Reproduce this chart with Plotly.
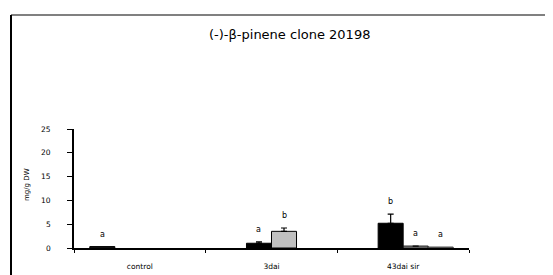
import plotly.graph_objects as go

categories = ["control", "3dai", "43dai sir"]
series_a = [0.3, None, None]
series_b = [None, 1.0, 5.2]
series_c = [None, 3.5, 0.4]
series_d = [None, None, 0.2]
err_b = [0, 0.3, 1.9]
err_c = [0, 0.7, 0]
letters_a = ["a", None, None]
letters_b = [None, "a", "b"]
letters_c = [None, "b", "a"]
letters_d = [None, None, "a"]
y_ticks = [0, 5, 10, 15, 20, 25]

FONT = "Comic Sans MS, DejaVu Sans, sans-serif"

# plot area in figure pixels (page has an 8px body margin)
L, R, T, B = 66, 461, 121, 240
W, H = 553, 275


def px(x):
    return (x - L) / (R - L)


def py(y):
    return (B - y) / (B - T)


fig = go.Figure()
fig.add_bar(x=categories, y=series_a, marker=dict(color="#202020", line=dict(color="black", width=1)))
fig.add_bar(x=categories, y=series_b, marker=dict(color="black", line=dict(color="black", width=1)),
            error_y=dict(type="data", array=err_b, arrayminus=[0, 0, 0], symmetric=False,
                         color="black", thickness=1.2, width=3))
fig.add_bar(x=categories, y=series_c, marker=dict(color="#c0c0c0", line=dict(color="black", width=1)),
            error_y=dict(type="data", array=err_c, arrayminus=[0, 0, 0], symmetric=False,
                         color="black", thickness=1.2, width=3))
fig.add_bar(x=categories, y=series_d, marker=dict(color="#808080", line=dict(color="#404040", width=1)))

offsets = [-0.285, -0.095, 0.095, 0.285]
all_vals = [series_a, series_b, series_c, series_d]
all_errs = [[0, 0, 0], err_b, err_c, [0, 0, 0]]
all_letters = [letters_a, letters_b, letters_c, letters_d]
annotations = []
for vals, errs, lets, off in zip(all_vals, all_errs, all_letters, offsets):
    for i, (v, e, t) in enumerate(zip(vals, errs, lets)):
        if t is None or v is None:
            continue
        annotations.append(dict(x=i + off, y=v + e, xref="x", yref="y", text=t,
                                showarrow=False, yanchor="bottom", yshift=6,
                                font=dict(family=FONT, size=8, color="black")))

# y tick labels, placed further from the axis as in the original
for t in y_ticks:
    annotations.append(dict(x=px(45), y=t, xref="paper", yref="y", text=str(t),
                            showarrow=False, xanchor="right", yanchor="middle",
                            font=dict(family=FONT, size=7.5, color="black")))

annotations.append(dict(x=px(281), y=py(27), xref="paper", yref="paper",
                        text="(-)-β-pinene clone 20198", showarrow=False,
                        xanchor="center", yanchor="middle",
                        font=dict(family=FONT, size=13, color="black")))
annotations.append(dict(x=px(19), y=py(177), xref="paper", yref="paper",
                        text="mg/g DW", textangle=-90, showarrow=False,
                        xanchor="center", yanchor="middle",
                        font=dict(family=FONT, size=7, color="black")))

fig.update_layout(
    width=W, height=H,
    margin=dict(l=L, r=W - R, t=T, b=H - B),
    paper_bgcolor="white", plot_bgcolor="white",
    barmode="group", bargap=0.24, bargroupgap=0,
    showlegend=False,
    font=dict(family=FONT, size=7, color="black"),
    annotations=annotations,
    shapes=[
        dict(type="line", xref="paper", yref="paper", x0=px(3), x1=px(W + 10),
             y0=py(7), y1=py(7), line=dict(color="#808080", width=2)),
        dict(type="line", xref="paper", yref="paper", x0=px(3), x1=px(3),
             y0=py(7), y1=py(H + 10), line=dict(color="black", width=2)),
    ],
)
fig.update_xaxes(showline=True, linecolor="black", linewidth=1.5, ticks="outside", tickson="boundaries",
                 ticklen=3, tickcolor="black", showgrid=False, tickfont=dict(family=FONT, size=7.5),
                 ticklabelstandoff=10, range=[-0.5, 2.5])
fig.update_yaxes(range=[0, 25], tickvals=y_ticks, showline=True, linecolor="black", linewidth=1.5,
                 ticks="outside", ticklen=5, tickcolor="black", showgrid=False, zeroline=False,
                 showticklabels=False)

fig.write_html("out.html")
